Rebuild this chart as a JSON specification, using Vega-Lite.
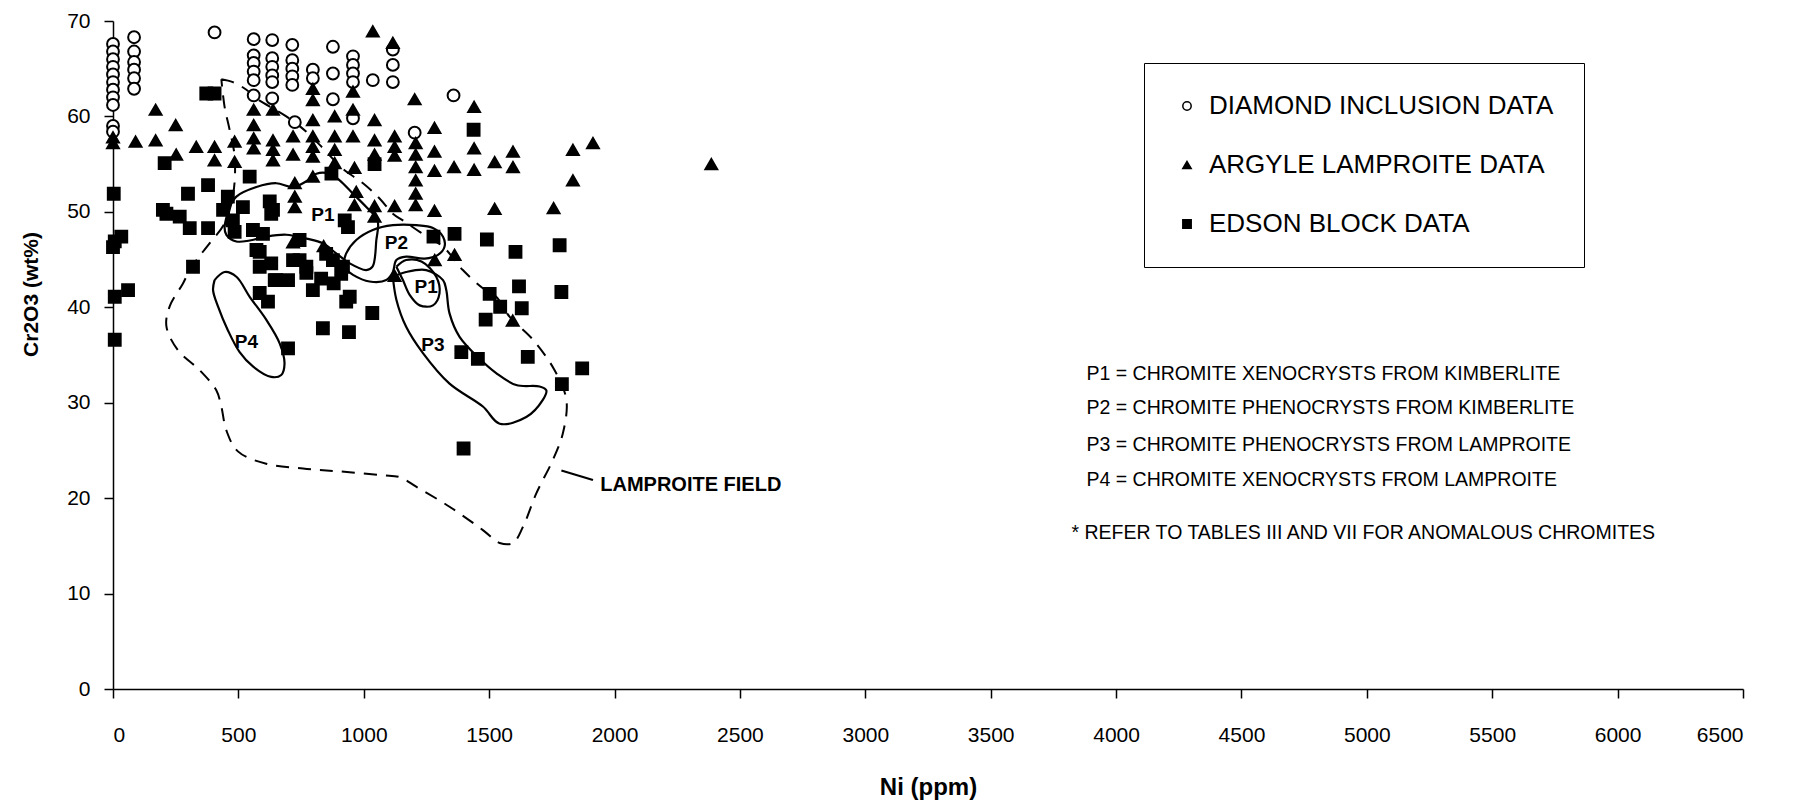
{
  "$schema": "https://vega.github.io/schema/vega-lite/v6.json",
  "width": 1630,
  "height": 668,
  "autosize": {"type": "none"},
  "padding": {"left": 113, "top": 21, "right": 51, "bottom": 113},
  "background": "white",
  "config": {
    "view": {"stroke": null},
    "font": "Liberation Sans",
    "axis": {"grid": false, "domainColor": "black", "tickColor": "black", "labelColor": "black", "titleColor": "black", "domainWidth": 1.5, "tickWidth": 1.5, "tickSize": 9, "labelFont": "Liberation Sans", "titleFont": "Liberation Sans"},
    "legend": {"title": null, "orient": "none", "legendX": 1031, "legendY": 42, "strokeColor": "black", "padding": 30, "labelFontSize": 26, "labelFont": "Liberation Sans", "labelColor": "black", "labelLimit": 0, "rowPadding": 33, "symbolSize": 70, "labelOffset": 9, "symbolStrokeColor": "black", "symbolStrokeWidth": 1.5, "fillColor": "white"}
  },
  "datasets": {
    "pts": [
      {"s": "DIAMOND INCLUSION DATA", "ni": 0, "cr": 67.6}, {"s": "DIAMOND INCLUSION DATA", "ni": 0, "cr": 66.8}, {"s": "DIAMOND INCLUSION DATA", "ni": 0, "cr": 66.0}, {"s": "DIAMOND INCLUSION DATA", "ni": 0, "cr": 65.2}, {"s": "DIAMOND INCLUSION DATA", "ni": 0, "cr": 64.4}, {"s": "DIAMOND INCLUSION DATA", "ni": 0, "cr": 63.6}, {"s": "DIAMOND INCLUSION DATA", "ni": 0, "cr": 62.8}, {"s": "DIAMOND INCLUSION DATA", "ni": 0, "cr": 62.0}, {"s": "DIAMOND INCLUSION DATA", "ni": 0, "cr": 61.2}, {"s": "DIAMOND INCLUSION DATA", "ni": 0, "cr": 59.0}, {"s": "DIAMOND INCLUSION DATA", "ni": 0, "cr": 58.4},
      {"s": "DIAMOND INCLUSION DATA", "ni": 84, "cr": 68.3}, {"s": "DIAMOND INCLUSION DATA", "ni": 84, "cr": 66.8}, {"s": "DIAMOND INCLUSION DATA", "ni": 84, "cr": 65.7}, {"s": "DIAMOND INCLUSION DATA", "ni": 84, "cr": 64.9}, {"s": "DIAMOND INCLUSION DATA", "ni": 84, "cr": 64.0}, {"s": "DIAMOND INCLUSION DATA", "ni": 84, "cr": 62.9},
      {"s": "DIAMOND INCLUSION DATA", "ni": 405, "cr": 68.8},
      {"s": "DIAMOND INCLUSION DATA", "ni": 561, "cr": 68.1}, {"s": "DIAMOND INCLUSION DATA", "ni": 561, "cr": 66.4}, {"s": "DIAMOND INCLUSION DATA", "ni": 561, "cr": 65.6}, {"s": "DIAMOND INCLUSION DATA", "ni": 561, "cr": 64.7}, {"s": "DIAMOND INCLUSION DATA", "ni": 561, "cr": 63.8}, {"s": "DIAMOND INCLUSION DATA", "ni": 561, "cr": 62.2},
      {"s": "DIAMOND INCLUSION DATA", "ni": 635, "cr": 68.0}, {"s": "DIAMOND INCLUSION DATA", "ni": 635, "cr": 66.1}, {"s": "DIAMOND INCLUSION DATA", "ni": 635, "cr": 65.2}, {"s": "DIAMOND INCLUSION DATA", "ni": 635, "cr": 64.3}, {"s": "DIAMOND INCLUSION DATA", "ni": 635, "cr": 63.6}, {"s": "DIAMOND INCLUSION DATA", "ni": 635, "cr": 61.9},
      {"s": "DIAMOND INCLUSION DATA", "ni": 715, "cr": 67.5}, {"s": "DIAMOND INCLUSION DATA", "ni": 715, "cr": 65.9}, {"s": "DIAMOND INCLUSION DATA", "ni": 715, "cr": 65.0}, {"s": "DIAMOND INCLUSION DATA", "ni": 715, "cr": 64.2}, {"s": "DIAMOND INCLUSION DATA", "ni": 715, "cr": 63.3}, {"s": "DIAMOND INCLUSION DATA", "ni": 725, "cr": 59.4},
      {"s": "DIAMOND INCLUSION DATA", "ni": 797, "cr": 64.9}, {"s": "DIAMOND INCLUSION DATA", "ni": 797, "cr": 64.0},
      {"s": "DIAMOND INCLUSION DATA", "ni": 877, "cr": 67.3}, {"s": "DIAMOND INCLUSION DATA", "ni": 877, "cr": 64.5}, {"s": "DIAMOND INCLUSION DATA", "ni": 877, "cr": 61.8},
      {"s": "DIAMOND INCLUSION DATA", "ni": 957, "cr": 66.3}, {"s": "DIAMOND INCLUSION DATA", "ni": 957, "cr": 65.4}, {"s": "DIAMOND INCLUSION DATA", "ni": 957, "cr": 64.5}, {"s": "DIAMOND INCLUSION DATA", "ni": 957, "cr": 63.6}, {"s": "DIAMOND INCLUSION DATA", "ni": 957, "cr": 59.8},
      {"s": "DIAMOND INCLUSION DATA", "ni": 1036, "cr": 63.8},
      {"s": "DIAMOND INCLUSION DATA", "ni": 1116, "cr": 67.0}, {"s": "DIAMOND INCLUSION DATA", "ni": 1116, "cr": 65.4}, {"s": "DIAMOND INCLUSION DATA", "ni": 1116, "cr": 63.6},
      {"s": "DIAMOND INCLUSION DATA", "ni": 1203, "cr": 58.3}, {"s": "DIAMOND INCLUSION DATA", "ni": 1358, "cr": 62.2},

      {"s": "ARGYLE LAMPROITE DATA", "ni": 0, "cr": 57.8}, {"s": "ARGYLE LAMPROITE DATA", "ni": 0, "cr": 57.2}, {"s": "ARGYLE LAMPROITE DATA", "ni": 170, "cr": 60.7}, {"s": "ARGYLE LAMPROITE DATA", "ni": 250, "cr": 59.1}, {"s": "ARGYLE LAMPROITE DATA", "ni": 90, "cr": 57.35}, {"s": "ARGYLE LAMPROITE DATA", "ni": 170, "cr": 57.5}, {"s": "ARGYLE LAMPROITE DATA", "ni": 252, "cr": 56.0}, {"s": "ARGYLE LAMPROITE DATA", "ni": 332, "cr": 56.8}, {"s": "ARGYLE LAMPROITE DATA", "ni": 405, "cr": 56.8}, {"s": "ARGYLE LAMPROITE DATA", "ni": 405, "cr": 55.4}, {"s": "ARGYLE LAMPROITE DATA", "ni": 485, "cr": 57.35}, {"s": "ARGYLE LAMPROITE DATA", "ni": 485, "cr": 55.25},
      {"s": "ARGYLE LAMPROITE DATA", "ni": 561, "cr": 60.7}, {"s": "ARGYLE LAMPROITE DATA", "ni": 561, "cr": 59.1}, {"s": "ARGYLE LAMPROITE DATA", "ni": 561, "cr": 57.7}, {"s": "ARGYLE LAMPROITE DATA", "ni": 561, "cr": 56.65}, {"s": "ARGYLE LAMPROITE DATA", "ni": 638, "cr": 60.7}, {"s": "ARGYLE LAMPROITE DATA", "ni": 638, "cr": 57.5}, {"s": "ARGYLE LAMPROITE DATA", "ni": 638, "cr": 56.5}, {"s": "ARGYLE LAMPROITE DATA", "ni": 638, "cr": 55.4}, {"s": "ARGYLE LAMPROITE DATA", "ni": 718, "cr": 57.9}, {"s": "ARGYLE LAMPROITE DATA", "ni": 718, "cr": 56.0},
      {"s": "ARGYLE LAMPROITE DATA", "ni": 797, "cr": 62.9}, {"s": "ARGYLE LAMPROITE DATA", "ni": 797, "cr": 61.7}, {"s": "ARGYLE LAMPROITE DATA", "ni": 797, "cr": 59.6}, {"s": "ARGYLE LAMPROITE DATA", "ni": 797, "cr": 57.9}, {"s": "ARGYLE LAMPROITE DATA", "ni": 797, "cr": 56.8}, {"s": "ARGYLE LAMPROITE DATA", "ni": 797, "cr": 55.8}, {"s": "ARGYLE LAMPROITE DATA", "ni": 725, "cr": 53.0}, {"s": "ARGYLE LAMPROITE DATA", "ni": 725, "cr": 51.6}, {"s": "ARGYLE LAMPROITE DATA", "ni": 725, "cr": 50.5}, {"s": "ARGYLE LAMPROITE DATA", "ni": 797, "cr": 53.7},
      {"s": "ARGYLE LAMPROITE DATA", "ni": 1036, "cr": 68.9}, {"s": "ARGYLE LAMPROITE DATA", "ni": 1116, "cr": 67.7}, {"s": "ARGYLE LAMPROITE DATA", "ni": 884, "cr": 60.0}, {"s": "ARGYLE LAMPROITE DATA", "ni": 884, "cr": 57.9}, {"s": "ARGYLE LAMPROITE DATA", "ni": 884, "cr": 56.5}, {"s": "ARGYLE LAMPROITE DATA", "ni": 884, "cr": 55.1}, {"s": "ARGYLE LAMPROITE DATA", "ni": 957, "cr": 62.6}, {"s": "ARGYLE LAMPROITE DATA", "ni": 957, "cr": 60.7}, {"s": "ARGYLE LAMPROITE DATA", "ni": 957, "cr": 57.9}, {"s": "ARGYLE LAMPROITE DATA", "ni": 963, "cr": 54.6},
      {"s": "ARGYLE LAMPROITE DATA", "ni": 1043, "cr": 59.6}, {"s": "ARGYLE LAMPROITE DATA", "ni": 1043, "cr": 57.5}, {"s": "ARGYLE LAMPROITE DATA", "ni": 1043, "cr": 56.0}, {"s": "ARGYLE LAMPROITE DATA", "ni": 1123, "cr": 57.9}, {"s": "ARGYLE LAMPROITE DATA", "ni": 1123, "cr": 56.8}, {"s": "ARGYLE LAMPROITE DATA", "ni": 1123, "cr": 55.9}, {"s": "ARGYLE LAMPROITE DATA", "ni": 1203, "cr": 61.8},
      {"s": "ARGYLE LAMPROITE DATA", "ni": 1207, "cr": 57.2}, {"s": "ARGYLE LAMPROITE DATA", "ni": 1207, "cr": 56.0}, {"s": "ARGYLE LAMPROITE DATA", "ni": 1207, "cr": 54.7}, {"s": "ARGYLE LAMPROITE DATA", "ni": 1207, "cr": 53.3}, {"s": "ARGYLE LAMPROITE DATA", "ni": 1207, "cr": 51.9}, {"s": "ARGYLE LAMPROITE DATA", "ni": 1207, "cr": 50.7},
      {"s": "ARGYLE LAMPROITE DATA", "ni": 1282, "cr": 58.8}, {"s": "ARGYLE LAMPROITE DATA", "ni": 1282, "cr": 56.3}, {"s": "ARGYLE LAMPROITE DATA", "ni": 1282, "cr": 54.3}, {"s": "ARGYLE LAMPROITE DATA", "ni": 1282, "cr": 50.1}, {"s": "ARGYLE LAMPROITE DATA", "ni": 1360, "cr": 54.7}, {"s": "ARGYLE LAMPROITE DATA", "ni": 1440, "cr": 61.0}, {"s": "ARGYLE LAMPROITE DATA", "ni": 1440, "cr": 56.65}, {"s": "ARGYLE LAMPROITE DATA", "ni": 1440, "cr": 54.4}, {"s": "ARGYLE LAMPROITE DATA", "ni": 1522, "cr": 55.2}, {"s": "ARGYLE LAMPROITE DATA", "ni": 1595, "cr": 56.3}, {"s": "ARGYLE LAMPROITE DATA", "ni": 1595, "cr": 54.7}, {"s": "ARGYLE LAMPROITE DATA", "ni": 1522, "cr": 50.3},
      {"s": "ARGYLE LAMPROITE DATA", "ni": 1123, "cr": 50.6}, {"s": "ARGYLE LAMPROITE DATA", "ni": 1043, "cr": 50.6}, {"s": "ARGYLE LAMPROITE DATA", "ni": 1043, "cr": 49.5}, {"s": "ARGYLE LAMPROITE DATA", "ni": 963, "cr": 50.7}, {"s": "ARGYLE LAMPROITE DATA", "ni": 970, "cr": 52.1}, {"s": "ARGYLE LAMPROITE DATA", "ni": 1834, "cr": 56.5}, {"s": "ARGYLE LAMPROITE DATA", "ni": 1914, "cr": 57.2}, {"s": "ARGYLE LAMPROITE DATA", "ni": 1834, "cr": 53.3}, {"s": "ARGYLE LAMPROITE DATA", "ni": 2386, "cr": 55.0}, {"s": "ARGYLE LAMPROITE DATA", "ni": 1757, "cr": 50.4}, {"s": "ARGYLE LAMPROITE DATA", "ni": 1362, "cr": 45.5}, {"s": "ARGYLE LAMPROITE DATA", "ni": 1283, "cr": 44.95}, {"s": "ARGYLE LAMPROITE DATA", "ni": 1594, "cr": 38.6}, {"s": "ARGYLE LAMPROITE DATA", "ni": 1123, "cr": 43.3}, {"s": "ARGYLE LAMPROITE DATA", "ni": 718, "cr": 46.8}, {"s": "ARGYLE LAMPROITE DATA", "ni": 840, "cr": 46.4},

      {"s": "EDSON BLOCK DATA", "ni": 372, "cr": 62.4}, {"s": "EDSON BLOCK DATA", "ni": 405, "cr": 62.4}, {"s": "EDSON BLOCK DATA", "ni": 3, "cr": 51.9}, {"s": "EDSON BLOCK DATA", "ni": 206, "cr": 55.1}, {"s": "EDSON BLOCK DATA", "ni": 299, "cr": 51.9}, {"s": "EDSON BLOCK DATA", "ni": 379, "cr": 52.8}, {"s": "EDSON BLOCK DATA", "ni": 545, "cr": 53.7}, {"s": "EDSON BLOCK DATA", "ni": 199, "cr": 50.2}, {"s": "EDSON BLOCK DATA", "ni": 458, "cr": 51.6}, {"s": "EDSON BLOCK DATA", "ni": 625, "cr": 51.1},
      {"s": "EDSON BLOCK DATA", "ni": 7, "cr": 46.9}, {"s": "EDSON BLOCK DATA", "ni": 33, "cr": 47.4}, {"s": "EDSON BLOCK DATA", "ni": 0, "cr": 46.3}, {"s": "EDSON BLOCK DATA", "ni": 7, "cr": 41.1}, {"s": "EDSON BLOCK DATA", "ni": 60, "cr": 41.8}, {"s": "EDSON BLOCK DATA", "ni": 7, "cr": 36.6}, {"s": "EDSON BLOCK DATA", "ni": 319, "cr": 44.25}, {"s": "EDSON BLOCK DATA", "ni": 698, "cr": 35.7},
      {"s": "EDSON BLOCK DATA", "ni": 213, "cr": 49.8}, {"s": "EDSON BLOCK DATA", "ni": 266, "cr": 49.5}, {"s": "EDSON BLOCK DATA", "ni": 306, "cr": 48.3}, {"s": "EDSON BLOCK DATA", "ni": 379, "cr": 48.3}, {"s": "EDSON BLOCK DATA", "ni": 439, "cr": 50.2}, {"s": "EDSON BLOCK DATA", "ni": 478, "cr": 49.1}, {"s": "EDSON BLOCK DATA", "ni": 485, "cr": 47.9}, {"s": "EDSON BLOCK DATA", "ni": 558, "cr": 48.1}, {"s": "EDSON BLOCK DATA", "ni": 598, "cr": 47.7}, {"s": "EDSON BLOCK DATA", "ni": 585, "cr": 45.8}, {"s": "EDSON BLOCK DATA", "ni": 585, "cr": 44.25}, {"s": "EDSON BLOCK DATA", "ni": 631, "cr": 44.6}, {"s": "EDSON BLOCK DATA", "ni": 645, "cr": 42.85}, {"s": "EDSON BLOCK DATA", "ni": 698, "cr": 42.85}, {"s": "EDSON BLOCK DATA", "ni": 585, "cr": 41.5}, {"s": "EDSON BLOCK DATA", "ni": 618, "cr": 40.6}, {"s": "EDSON BLOCK DATA", "ni": 744, "cr": 44.95}, {"s": "EDSON BLOCK DATA", "ni": 771, "cr": 43.6}, {"s": "EDSON BLOCK DATA", "ni": 797, "cr": 41.8}, {"s": "EDSON BLOCK DATA", "ni": 744, "cr": 47.05}, {"s": "EDSON BLOCK DATA", "ni": 638, "cr": 50.2}, {"s": "EDSON BLOCK DATA", "ni": 518, "cr": 50.5}, {"s": "EDSON BLOCK DATA", "ni": 631, "cr": 49.8}, {"s": "EDSON BLOCK DATA", "ni": 572, "cr": 46.0}, {"s": "EDSON BLOCK DATA", "ni": 651, "cr": 42.85}, {"s": "EDSON BLOCK DATA", "ni": 718, "cr": 44.95}, {"s": "EDSON BLOCK DATA", "ni": 771, "cr": 44.25}, {"s": "EDSON BLOCK DATA", "ni": 877, "cr": 44.95}, {"s": "EDSON BLOCK DATA", "ni": 917, "cr": 44.25}, {"s": "EDSON BLOCK DATA", "ni": 944, "cr": 41.1}, {"s": "EDSON BLOCK DATA", "ni": 850, "cr": 45.6}, {"s": "EDSON BLOCK DATA", "ni": 830, "cr": 43.0}, {"s": "EDSON BLOCK DATA", "ni": 880, "cr": 42.5}, {"s": "EDSON BLOCK DATA", "ni": 910, "cr": 43.5},
      {"s": "EDSON BLOCK DATA", "ni": 871, "cr": 54.0}, {"s": "EDSON BLOCK DATA", "ni": 924, "cr": 49.1}, {"s": "EDSON BLOCK DATA", "ni": 937, "cr": 48.4}, {"s": "EDSON BLOCK DATA", "ni": 1278, "cr": 47.4}, {"s": "EDSON BLOCK DATA", "ni": 1362, "cr": 47.7}, {"s": "EDSON BLOCK DATA", "ni": 1491, "cr": 47.1}, {"s": "EDSON BLOCK DATA", "ni": 1605, "cr": 45.8}, {"s": "EDSON BLOCK DATA", "ni": 1619, "cr": 42.2}, {"s": "EDSON BLOCK DATA", "ni": 1502, "cr": 41.4}, {"s": "EDSON BLOCK DATA", "ni": 1544, "cr": 40.06}, {"s": "EDSON BLOCK DATA", "ni": 1630, "cr": 39.9}, {"s": "EDSON BLOCK DATA", "ni": 1486, "cr": 38.7}, {"s": "EDSON BLOCK DATA", "ni": 1389, "cr": 35.3}, {"s": "EDSON BLOCK DATA", "ni": 1455, "cr": 34.6}, {"s": "EDSON BLOCK DATA", "ni": 1654, "cr": 34.8}, {"s": "EDSON BLOCK DATA", "ni": 930, "cr": 40.6}, {"s": "EDSON BLOCK DATA", "ni": 1034, "cr": 39.4}, {"s": "EDSON BLOCK DATA", "ni": 837, "cr": 37.8}, {"s": "EDSON BLOCK DATA", "ni": 941, "cr": 37.4}, {"s": "EDSON BLOCK DATA", "ni": 1781, "cr": 46.5}, {"s": "EDSON BLOCK DATA", "ni": 1788, "cr": 41.6}, {"s": "EDSON BLOCK DATA", "ni": 1871, "cr": 33.6}, {"s": "EDSON BLOCK DATA", "ni": 1790, "cr": 31.95}, {"s": "EDSON BLOCK DATA", "ni": 1398, "cr": 25.2}, {"s": "EDSON BLOCK DATA", "ni": 1438, "cr": 58.6}, {"s": "EDSON BLOCK DATA", "ni": 1043, "cr": 55.0}
    ],
    "contours": [
      {"k": "FIELD", "o": 1, "ni": 432, "cr": 63.9}, {"k": "FIELD", "o": 2, "ni": 478, "cr": 63.6}, {"k": "FIELD", "o": 3, "ni": 532, "cr": 62.8}, {"k": "FIELD", "o": 4, "ni": 571, "cr": 61.9}, {"k": "FIELD", "o": 5, "ni": 691, "cr": 60.0}, {"k": "FIELD", "o": 6, "ni": 771, "cr": 58.4}, {"k": "FIELD", "o": 7, "ni": 840, "cr": 56.6}, {"k": "FIELD", "o": 8, "ni": 917, "cr": 54.5}, {"k": "FIELD", "o": 9, "ni": 997, "cr": 53.0}, {"k": "FIELD", "o": 10, "ni": 1063, "cr": 51.4}, {"k": "FIELD", "o": 11, "ni": 1116, "cr": 49.8}, {"k": "FIELD", "o": 12, "ni": 1156, "cr": 49.1}, {"k": "FIELD", "o": 13, "ni": 1223, "cr": 47.9}, {"k": "FIELD", "o": 14, "ni": 1316, "cr": 46.35}, {"k": "FIELD", "o": 15, "ni": 1395, "cr": 43.9}, {"k": "FIELD", "o": 16, "ni": 1475, "cr": 42.0}, {"k": "FIELD", "o": 17, "ni": 1528, "cr": 41.1}, {"k": "FIELD", "o": 18, "ni": 1582, "cr": 39.0}, {"k": "FIELD", "o": 19, "ni": 1675, "cr": 36.6}, {"k": "FIELD", "o": 20, "ni": 1761, "cr": 33.4}, {"k": "FIELD", "o": 21, "ni": 1808, "cr": 30.3}, {"k": "FIELD", "o": 22, "ni": 1794, "cr": 26.8}, {"k": "FIELD", "o": 23, "ni": 1754, "cr": 24.0}, {"k": "FIELD", "o": 24, "ni": 1688, "cr": 20.5}, {"k": "FIELD", "o": 25, "ni": 1635, "cr": 17.0}, {"k": "FIELD", "o": 26, "ni": 1595, "cr": 15.3}, {"k": "FIELD", "o": 27, "ni": 1542, "cr": 15.3}, {"k": "FIELD", "o": 28, "ni": 1475, "cr": 16.65}, {"k": "FIELD", "o": 29, "ni": 1342, "cr": 19.1}, {"k": "FIELD", "o": 30, "ni": 1209, "cr": 21.2}, {"k": "FIELD", "o": 31, "ni": 1143, "cr": 22.2}, {"k": "FIELD", "o": 32, "ni": 1077, "cr": 22.4}, {"k": "FIELD", "o": 33, "ni": 904, "cr": 22.8}, {"k": "FIELD", "o": 34, "ni": 758, "cr": 23.1}, {"k": "FIELD", "o": 35, "ni": 611, "cr": 23.6}, {"k": "FIELD", "o": 36, "ni": 498, "cr": 24.9}, {"k": "FIELD", "o": 37, "ni": 452, "cr": 27.1}, {"k": "FIELD", "o": 38, "ni": 432, "cr": 29.6}, {"k": "FIELD", "o": 39, "ni": 412, "cr": 31.3}, {"k": "FIELD", "o": 40, "ni": 346, "cr": 33.4}, {"k": "FIELD", "o": 41, "ni": 259, "cr": 35.5}, {"k": "FIELD", "o": 42, "ni": 213, "cr": 38.0}, {"k": "FIELD", "o": 43, "ni": 226, "cr": 40.1}, {"k": "FIELD", "o": 44, "ni": 279, "cr": 42.5}, {"k": "FIELD", "o": 45, "ni": 306, "cr": 43.9}, {"k": "FIELD", "o": 46, "ni": 340, "cr": 45.2}, {"k": "FIELD", "o": 47, "ni": 385, "cr": 46.7}, {"k": "FIELD", "o": 48, "ni": 445, "cr": 48.8}, {"k": "FIELD", "o": 49, "ni": 480, "cr": 52.0}, {"k": "FIELD", "o": 50, "ni": 485, "cr": 55.8}, {"k": "FIELD", "o": 51, "ni": 465, "cr": 58.6}, {"k": "FIELD", "o": 52, "ni": 445, "cr": 61.0}, {"k": "FIELD", "o": 53, "ni": 432, "cr": 63.9},
      {"k": "P1a", "o": 1, "ni": 465, "cr": 50.5}, {"k": "P1a", "o": 2, "ni": 492, "cr": 51.6}, {"k": "P1a", "o": 3, "ni": 572, "cr": 52.6}, {"k": "P1a", "o": 4, "ni": 651, "cr": 53.0}, {"k": "P1a", "o": 5, "ni": 718, "cr": 52.6}, {"k": "P1a", "o": 6, "ni": 771, "cr": 53.2}, {"k": "P1a", "o": 7, "ni": 811, "cr": 54.0}, {"k": "P1a", "o": 8, "ni": 864, "cr": 54.0}, {"k": "P1a", "o": 9, "ni": 904, "cr": 53.3}, {"k": "P1a", "o": 10, "ni": 957, "cr": 51.9}, {"k": "P1a", "o": 11, "ni": 1010, "cr": 50.5}, {"k": "P1a", "o": 12, "ni": 1055, "cr": 49.1}, {"k": "P1a", "o": 13, "ni": 1050, "cr": 47.0}, {"k": "P1a", "o": 14, "ni": 1035, "cr": 44.25}, {"k": "P1a", "o": 15, "ni": 1010, "cr": 43.9}, {"k": "P1a", "o": 16, "ni": 944, "cr": 44.6}, {"k": "P1a", "o": 17, "ni": 890, "cr": 45.65}, {"k": "P1a", "o": 18, "ni": 837, "cr": 46.7}, {"k": "P1a", "o": 19, "ni": 771, "cr": 47.2}, {"k": "P1a", "o": 20, "ni": 691, "cr": 47.6}, {"k": "P1a", "o": 21, "ni": 611, "cr": 47.4}, {"k": "P1a", "o": 22, "ni": 545, "cr": 47.0}, {"k": "P1a", "o": 23, "ni": 492, "cr": 46.9}, {"k": "P1a", "o": 24, "ni": 452, "cr": 47.6}, {"k": "P1a", "o": 25, "ni": 445, "cr": 48.4}, {"k": "P1a", "o": 26, "ni": 465, "cr": 50.5},
      {"k": "P2", "o": 1, "ni": 917, "cr": 44.25}, {"k": "P2", "o": 2, "ni": 930, "cr": 45.65}, {"k": "P2", "o": 3, "ni": 970, "cr": 47.05}, {"k": "P2", "o": 4, "ni": 1036, "cr": 48.1}, {"k": "P2", "o": 5, "ni": 1116, "cr": 48.6}, {"k": "P2", "o": 6, "ni": 1209, "cr": 48.6}, {"k": "P2", "o": 7, "ni": 1276, "cr": 48.3}, {"k": "P2", "o": 8, "ni": 1316, "cr": 47.4}, {"k": "P2", "o": 9, "ni": 1322, "cr": 46.35}, {"k": "P2", "o": 10, "ni": 1296, "cr": 45.5}, {"k": "P2", "o": 11, "ni": 1243, "cr": 45.1}, {"k": "P2", "o": 12, "ni": 1169, "cr": 45.3}, {"k": "P2", "o": 13, "ni": 1130, "cr": 44.95}, {"k": "P2", "o": 14, "ni": 1116, "cr": 43.7}, {"k": "P2", "o": 15, "ni": 1090, "cr": 42.85}, {"k": "P2", "o": 16, "ni": 1023, "cr": 42.7}, {"k": "P2", "o": 17, "ni": 957, "cr": 43.4}, {"k": "P2", "o": 18, "ni": 917, "cr": 44.25},
      {"k": "P1b", "o": 1, "ni": 1130, "cr": 44.25}, {"k": "P1b", "o": 2, "ni": 1169, "cr": 44.95}, {"k": "P1b", "o": 3, "ni": 1230, "cr": 44.8}, {"k": "P1b", "o": 4, "ni": 1289, "cr": 43.2}, {"k": "P1b", "o": 5, "ni": 1302, "cr": 41.45}, {"k": "P1b", "o": 6, "ni": 1276, "cr": 40.2}, {"k": "P1b", "o": 7, "ni": 1223, "cr": 40.2}, {"k": "P1b", "o": 8, "ni": 1183, "cr": 41.3}, {"k": "P1b", "o": 9, "ni": 1156, "cr": 42.85}, {"k": "P1b", "o": 10, "ni": 1130, "cr": 44.25},
      {"k": "P3", "o": 1, "ni": 1116, "cr": 43.2}, {"k": "P3", "o": 2, "ni": 1130, "cr": 40.8}, {"k": "P3", "o": 3, "ni": 1169, "cr": 37.96}, {"k": "P3", "o": 4, "ni": 1236, "cr": 35.2}, {"k": "P3", "o": 5, "ni": 1342, "cr": 32.0}, {"k": "P3", "o": 6, "ni": 1475, "cr": 29.6}, {"k": "P3", "o": 7, "ni": 1542, "cr": 27.8}, {"k": "P3", "o": 8, "ni": 1648, "cr": 28.5}, {"k": "P3", "o": 9, "ni": 1714, "cr": 30.3}, {"k": "P3", "o": 10, "ni": 1728, "cr": 31.3}, {"k": "P3", "o": 11, "ni": 1701, "cr": 31.7}, {"k": "P3", "o": 12, "ni": 1608, "cr": 31.85}, {"k": "P3", "o": 13, "ni": 1528, "cr": 33.1}, {"k": "P3", "o": 14, "ni": 1462, "cr": 34.6}, {"k": "P3", "o": 15, "ni": 1382, "cr": 36.9}, {"k": "P3", "o": 16, "ni": 1342, "cr": 39.36}, {"k": "P3", "o": 17, "ni": 1329, "cr": 41.8}, {"k": "P3", "o": 18, "ni": 1316, "cr": 42.85}, {"k": "P3", "o": 19, "ni": 1249, "cr": 43.9}, {"k": "P3", "o": 20, "ni": 1169, "cr": 43.7}, {"k": "P3", "o": 21, "ni": 1116, "cr": 43.2},
      {"k": "P4", "o": 1, "ni": 405, "cr": 42.85}, {"k": "P4", "o": 2, "ni": 445, "cr": 43.7}, {"k": "P4", "o": 3, "ni": 492, "cr": 43.2}, {"k": "P4", "o": 4, "ni": 545, "cr": 41.1}, {"k": "P4", "o": 5, "ni": 611, "cr": 38.7}, {"k": "P4", "o": 6, "ni": 665, "cr": 36.2}, {"k": "P4", "o": 7, "ni": 684, "cr": 34.1}, {"k": "P4", "o": 8, "ni": 671, "cr": 32.9}, {"k": "P4", "o": 9, "ni": 631, "cr": 32.7}, {"k": "P4", "o": 10, "ni": 558, "cr": 33.8}, {"k": "P4", "o": 11, "ni": 505, "cr": 35.3}, {"k": "P4", "o": 12, "ni": 458, "cr": 37.6}, {"k": "P4", "o": 13, "ni": 419, "cr": 40.06}, {"k": "P4", "o": 14, "ni": 399, "cr": 41.8}, {"k": "P4", "o": 15, "ni": 405, "cr": 42.85},
      {"k": "ARROW", "o": 1, "ni": 1788, "cr": 22.9}, {"k": "ARROW", "o": 2, "ni": 1914, "cr": 21.9}
    ],
    "labels": [
      {"t": "P1", "ni": 837, "cr": 49.7}, {"t": "P2", "ni": 1130, "cr": 46.7}, {"t": "P1", "ni": 1249, "cr": 42.1}, {"t": "P3", "ni": 1276, "cr": 36.0}, {"t": "P4", "ni": 532, "cr": 36.4}
    ],
    "field": [{"t": "LAMPROITE FIELD", "ni": 1943, "cr": 21.4}],
    "notes": [
      {"t": "P1 = CHROMITE XENOCRYSTS FROM KIMBERLITE", "ni": 3882, "cr": 33.0},
      {"t": "P2 = CHROMITE PHENOCRYSTS FROM KIMBERLITE", "ni": 3882, "cr": 29.4},
      {"t": "P3 = CHROMITE PHENOCRYSTS FROM LAMPROITE", "ni": 3882, "cr": 25.55},
      {"t": "P4 = CHROMITE XENOCRYSTS FROM LAMPROITE", "ni": 3882, "cr": 21.85},
      {"t": "* REFER TO TABLES III AND VII FOR ANOMALOUS CHROMITES", "ni": 3822, "cr": 16.35}
    ]
  },
  "encoding": {
    "x": {"field": "ni", "type": "quantitative", "scale": {"domain": [0, 6500], "nice": false},
      "axis": {"values": [0, 500, 1000, 1500, 2000, 2500, 3000, 3500, 4000, 4500, 5000, 5500, 6000, 6500], "format": "d", "labelFontSize": 21, "labelPadding": 26, "title": "Ni (ppm)", "titleFontSize": 24, "titleFontWeight": "bold", "titleY": 98, "titleBaseline": "middle"}},
    "y": {"field": "cr", "type": "quantitative", "scale": {"domain": [0, 70], "nice": false},
      "axis": {"values": [0, 10, 20, 30, 40, 50, 60, 70], "labelFontSize": 21, "labelPadding": 14, "title": "Cr2O3 (wt%)", "titleFontSize": 21, "titleFontWeight": "bold", "titleX": -82, "titleY": 273, "titleAngle": 270, "titleAlign": "center", "titleBaseline": "middle"}}
  },
  "layer": [
    {
      "data": {"name": "contours"},
      "transform": [{"filter": "datum.k === 'FIELD'"}],
      "mark": {"type": "line", "color": "black", "strokeWidth": 2, "strokeDash": [13, 9], "interpolate": "catmull-rom"},
      "encoding": {"detail": {"field": "k"}, "order": {"field": "o", "type": "quantitative"}}
    },
    {
      "data": {"name": "contours"},
      "transform": [{"filter": "datum.k !== 'FIELD'"}],
      "mark": {"type": "line", "color": "black", "strokeWidth": 2.2, "interpolate": "catmull-rom"},
      "encoding": {"detail": {"field": "k"}, "order": {"field": "o", "type": "quantitative"}}
    },
    {
      "data": {"name": "pts"},
      "mark": {"type": "point", "filled": true, "strokeWidth": 2, "opacity": 1, "size": 140},
      "encoding": {
        "shape": {"field": "s", "type": "nominal", "scale": {"domain": ["DIAMOND INCLUSION DATA", "ARGYLE LAMPROITE DATA", "EDSON BLOCK DATA"], "range": ["circle", "triangle-up", "square"]}},
        "fill": {"field": "s", "type": "nominal", "scale": {"domain": ["DIAMOND INCLUSION DATA", "ARGYLE LAMPROITE DATA", "EDSON BLOCK DATA"], "range": ["white", "black", "black"]}},
        "stroke": {"field": "s", "type": "nominal", "scale": {"domain": ["DIAMOND INCLUSION DATA", "ARGYLE LAMPROITE DATA", "EDSON BLOCK DATA"], "range": ["black", "black", "black"]}}
      }
    },
    {
      "data": {"name": "labels"},
      "mark": {"type": "text", "fontSize": 19, "fontWeight": "bold", "color": "black", "font": "Liberation Sans"},
      "encoding": {"text": {"field": "t"}}
    },
    {
      "data": {"name": "field"},
      "mark": {"type": "text", "fontSize": 20, "fontWeight": "bold", "color": "black", "align": "left", "baseline": "middle", "font": "Liberation Sans"},
      "encoding": {"text": {"field": "t"}}
    },
    {
      "data": {"name": "notes"},
      "mark": {"type": "text", "fontSize": 19.5, "color": "black", "align": "left", "baseline": "middle", "font": "Liberation Sans"},
      "encoding": {"text": {"field": "t"}}
    }
  ]
}
